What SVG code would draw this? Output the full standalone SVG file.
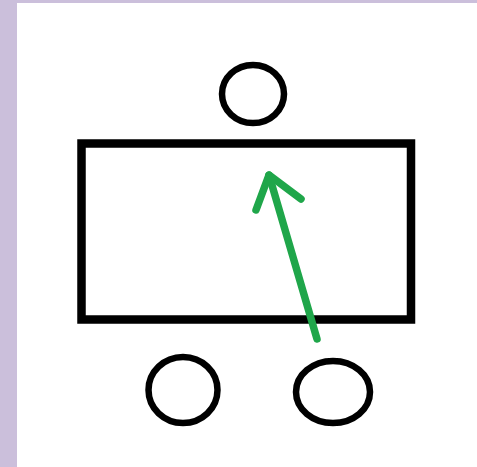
<svg xmlns="http://www.w3.org/2000/svg" width="477" height="467" viewBox="0 0 477 467">
<style>
.n{fill:none;stroke:#000;stroke-width:6.5}
.c{fill:none;stroke:#1fa64a;stroke-width:7.5;stroke-linecap:round;stroke-linejoin:round}
</style>
<rect x="0" y="0" width="477" height="467" fill="#ffffff"/>
<rect x="0" y="0" width="477" height="3" fill="#cbbfdb"/>
<rect x="0" y="0" width="17" height="467" fill="#cbbfdb"/>
<g id="box"><rect class="n" x="81.5" y="143.5" width="329.5" height="176" style="stroke-width:8.5"/></g>
<g id="top-circle"><ellipse class="n" cx="253" cy="94" rx="31" ry="29"/></g>
<g id="bottom-left-circle"><ellipse class="n" cx="183" cy="390" rx="34.5" ry="33"/></g>
<g id="bottom-right-circle"><ellipse class="n" cx="333" cy="392" rx="37" ry="31"/></g>
<g id="connectors">
<path class="c" d="M317,339 L269,175"/>
<path class="c" d="M256,210 L269,175 L301,199"/>
</g>
</svg>
